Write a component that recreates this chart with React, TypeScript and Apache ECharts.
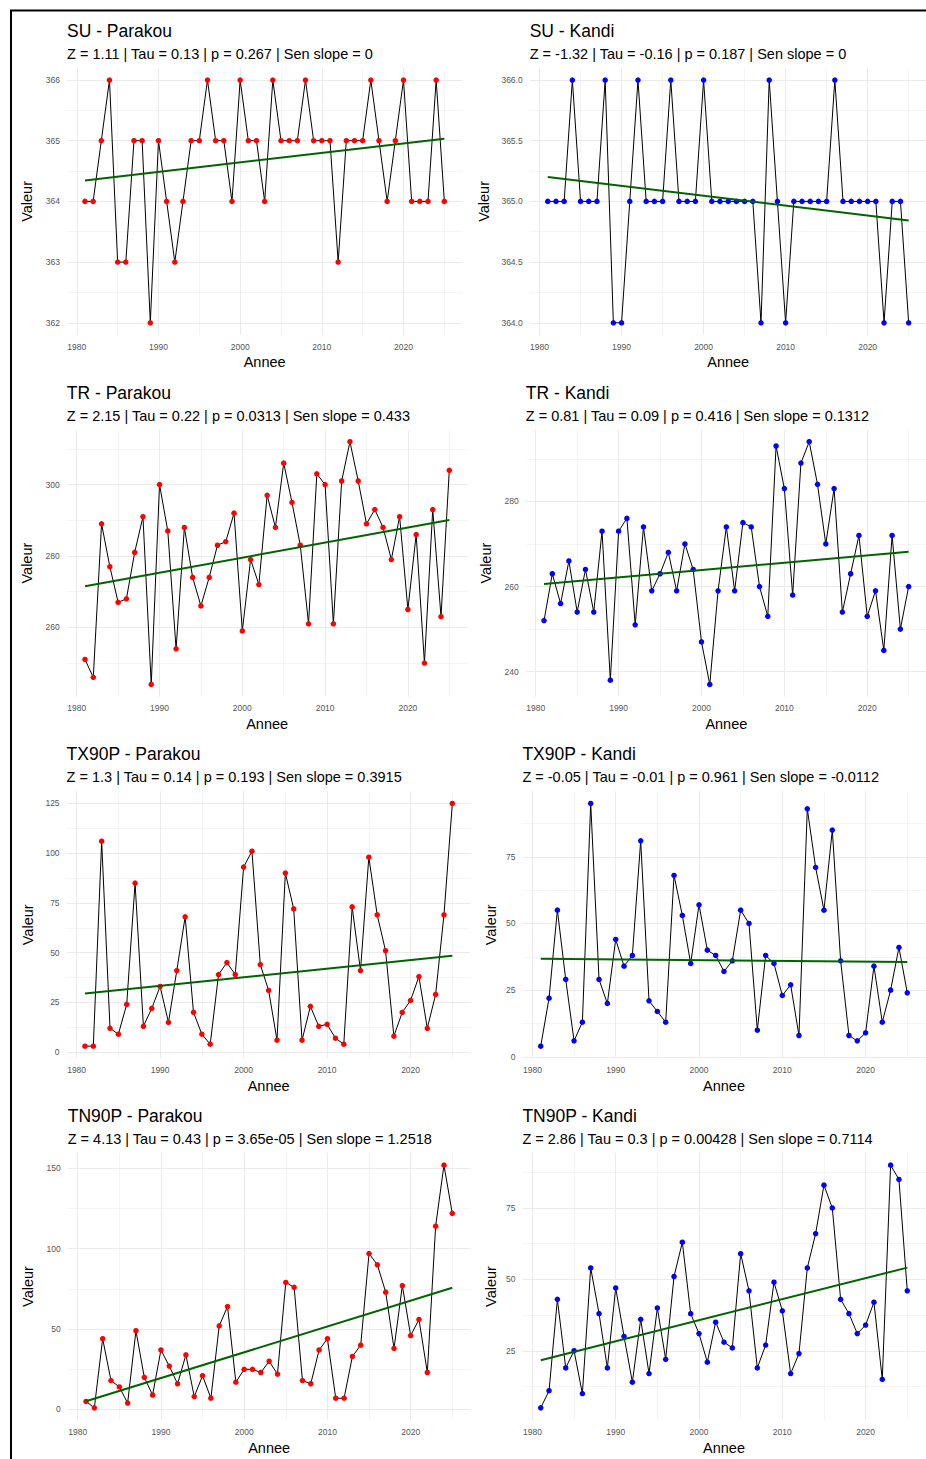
import React, { useEffect, useRef } from "react";
import * as echarts from "echarts";

// ---------------- DATA ----------------
const YEARS = [
  1981, 1982, 1983, 1984, 1985, 1986, 1987, 1988, 1989, 1990,
  1991, 1992, 1993, 1994, 1995, 1996, 1997, 1998, 1999, 2000,
  2001, 2002, 2003, 2004, 2005, 2006, 2007, 2008, 2009, 2010,
  2011, 2012, 2013, 2014, 2015, 2016, 2017, 2018, 2019, 2020,
  2021, 2022, 2023, 2024, 2025,
];
const X_TICKS = [1980, 1990, 2000, 2010, 2020];

const SU_PARAKOU = [
  364, 364, 365, 366, 363, 363, 365, 365, 362, 365,
  364, 363, 364, 365, 365, 366, 365, 365, 364, 366,
  365, 365, 364, 366, 365, 365, 365, 366, 365, 365,
  365, 363, 365, 365, 365, 366, 365, 364, 365, 366,
  364, 364, 364, 366, 364,
];
const SU_KANDI = [
  365, 365, 365, 366, 365, 365, 365, 366, 364, 364,
  365, 366, 365, 365, 365, 366, 365, 365, 365, 366,
  365, 365, 365, 365, 365, 365, 364, 366, 365, 364,
  365, 365, 365, 365, 365, 366, 365, 365, 365, 365,
  365, 364, 365, 365, 364,
];
const TR_PARAKOU = [
  251, 246, 289, 277, 267, 268, 281, 291, 244, 300,
  287, 254, 288, 274, 266, 274, 283, 284, 292, 259,
  279, 272, 297, 288, 306, 295, 283, 261, 303, 300,
  261, 301, 312, 301, 289, 293, 288, 279, 291, 265,
  286, 250, 293, 263, 304,
];
const TR_KANDI = [
  252, 263, 256, 266, 254, 264, 254, 273, 238, 273,
  276, 251, 274, 259, 263, 268, 259, 270, 264, 247,
  237, 259, 274, 259, 275, 274, 260, 253, 293, 283,
  258, 289, 294, 284, 270, 283, 254, 263, 272, 253,
  259, 245, 272, 250, 260,
];
const TX90P_PARAKOU = [
  3, 3, 106, 12, 9, 24, 85, 13, 22, 33,
  15, 41, 68, 20, 9, 4, 39, 45, 39, 93,
  101, 44, 31, 6, 90, 72, 6, 23, 13, 14,
  7, 4, 73, 41, 98, 69, 51, 8, 20, 26,
  38, 12, 29, 69, 125,
];
const TX90P_KANDI = [
  4, 22, 55, 29, 6, 13, 95, 29, 20, 44,
  34, 38, 81, 21, 17, 13, 68, 53, 35, 57,
  40, 38, 32, 36, 55, 50, 10, 38, 35, 23,
  27, 8, 93, 71, 55, 85, 36, 8, 6, 9,
  34, 13, 25, 41, 24,
];
const TN90P_PARAKOU = [
  5, 1, 44, 18, 14, 4, 49, 20, 9, 37,
  27, 16, 34, 8, 21, 7, 52, 64, 17, 25,
  25, 23, 30, 22, 79, 76, 18, 16, 37, 44,
  7, 7, 33, 40, 97, 90, 73, 38, 77, 46,
  56, 23, 114, 152, 122,
];
const TN90P_KANDI = [
  5, 11, 43, 19, 25, 10, 54, 38, 19, 47,
  30, 14, 36, 17, 40, 22, 51, 63, 38, 31,
  21, 35, 28, 26, 59, 46, 19, 27, 49, 39,
  17, 24, 54, 66, 83, 75, 43, 38, 31, 34,
  42, 15, 90, 85, 46,
];

const TITLES = [
  "SU - Parakou", "SU - Kandi",
  "TR - Parakou", "TR - Kandi",
  "TX90P - Parakou", "TX90P - Kandi",
  "TN90P - Parakou", "TN90P - Kandi",
];
const SUBTITLES = [
  "Z = 1.11 | Tau = 0.13 | p = 0.267 | Sen slope = 0",
  "Z = -1.32 | Tau = -0.16 | p = 0.187 | Sen slope = 0",
  "Z = 2.15 | Tau = 0.22 | p = 0.0313 | Sen slope = 0.433",
  "Z = 0.81 | Tau = 0.09 | p = 0.416 | Sen slope = 0.1312",
  "Z = 1.3 | Tau = 0.14 | p = 0.193 | Sen slope = 0.3915",
  "Z = -0.05 | Tau = -0.01 | p = 0.961 | Sen slope = -0.0112",
  "Z = 4.13 | Tau = 0.43 | p = 3.65e-05 | Sen slope = 1.2518",
  "Z = 2.86 | Tau = 0.3 | p = 0.00428 | Sen slope = 0.7114",
];
const SERIES_VALUES = [
  SU_PARAKOU, SU_KANDI, TR_PARAKOU, TR_KANDI,
  TX90P_PARAKOU, TX90P_KANDI, TN90P_PARAKOU, TN90P_KANDI,
];
const Y_STEPS = [1, 0.5, 20, 20, 25, 25, 50, 25];
const Y_DECIMALS = [0, 1, 0, 0, 0, 0, 0, 0];
const X_NAME = "Annee";
const Y_NAME = "Valeur";

// ---------------- STYLE / LAYOUT ----------------
const FONT = "'Liberation Sans', Arial, Helvetica, sans-serif";
const COLOR_PARAKOU = "#FF0000";
const COLOR_KANDI = "#0000FF";
const TREND_COLOR = "#006400";
const GRID_COLOR = "#EBEBEB";

const LAYOUT = [
  { left: 67.0, right: 462.3, top: 67.9, yNameGap: 40 },
  { left: 529.7, right: 926.7, top: 67.9, yNameGap: 45.5 },
  { left: 66.8, right: 467.5, top: 429.6, yNameGap: 40 },
  { left: 525.8, right: 926.9, top: 429.6, yNameGap: 40 },
  { left: 66.6, right: 470.7, top: 791.3, yNameGap: 39 },
  { left: 522.4, right: 925.6, top: 791.3, yNameGap: 31 },
  { left: 67.7, right: 470.6, top: 1153.0, yNameGap: 40 },
  { left: 522.4, right: 925.6, top: 1153.0, yNameGap: 31 },
];
const PLOT_H = 267;

function expandedRange(vals: number[]): [number, number] {
  const mn = Math.min(...vals);
  const mx = Math.max(...vals);
  const pad = (mx - mn) * 0.05;
  return [mn - pad, mx + pad];
}

function stepsWithin(lo: number, hi: number, step: number, offset: number): number[] {
  const out: number[] = [];
  let v = Math.ceil((lo - offset) / step - 1e-9) * step + offset;
  for (; v <= hi + 1e-9; v += step) out.push(Math.round(v * 1e6) / 1e6);
  return out;
}

function ols(xs: number[], ys: number[]): [number, number] {
  const n = xs.length;
  const mx = xs.reduce((a, b) => a + b, 0) / n;
  const my = ys.reduce((a, b) => a + b, 0) / n;
  let sxy = 0;
  let sxx = 0;
  for (let i = 0; i < n; i++) {
    sxy += (xs[i] - mx) * (ys[i] - my);
    sxx += (xs[i] - mx) * (xs[i] - mx);
  }
  const b = sxy / sxx;
  return [my - b * mx, b];
}

function buildOption() {
  const [xMin, xMax] = expandedRange(YEARS);
  const xMajors = stepsWithin(xMin, xMax, 10, 0);
  const xMinors = stepsWithin(xMin, xMax, 10, 5);

  const grids: any[] = [];
  const xAxes: any[] = [];
  const yAxes: any[] = [];
  const series: any[] = [];
  const graphics: any[] = [];

  SERIES_VALUES.forEach((vals, i) => {
    const lay = LAYOUT[i];
    const [yMin, yMax] = expandedRange(vals);
    const step = Y_STEPS[i];
    const yMajors = stepsWithin(yMin, yMax, step, 0);
    const yMinors = stepsWithin(yMin, yMax, step, step / 2);
    const dec = Y_DECIMALS[i];
    const pointColor = i % 2 === 0 ? COLOR_PARAKOU : COLOR_KANDI;

    grids.push({
      left: lay.left,
      top: lay.top,
      width: lay.right - lay.left,
      height: PLOT_H,
      containLabel: false,
      outerBoundsMode: "none",
      show: false,
    });

    xAxes.push({
      type: "value",
      gridIndex: i,
      min: xMin,
      max: xMax,
      axisLine: { show: false },
      axisTick: { show: false, customValues: X_TICKS },
      splitLine: { show: false },
      axisLabel: {
        customValues: X_TICKS,
        formatter: (v: number) => String(Math.round(v)),
        fontSize: 8.5,
        fontFamily: FONT,
        color: "#555555",
        margin: 11.8,
        verticalAlign: "middle",
        hideOverlap: false,
      },
      name: X_NAME,
      nameLocation: "middle",
      nameGap: 27.5,
      nameTextStyle: {
        fontSize: 14.5,
        fontFamily: FONT,
        color: "#000000",
        verticalAlign: "middle",
      },
    });

    yAxes.push({
      type: "value",
      gridIndex: i,
      min: yMin,
      max: yMax,
      axisLine: { show: false },
      axisTick: { show: false, customValues: yMajors },
      splitLine: { show: false },
      axisLabel: {
        customValues: yMajors,
        formatter: (v: number) => v.toFixed(dec),
        fontSize: 8.5,
        fontFamily: FONT,
        color: "#555555",
        margin: 7,
        hideOverlap: false,
      },
      name: Y_NAME,
      nameLocation: "middle",
      nameRotate: 90,
      nameGap: lay.yNameGap,
      nameTextStyle: {
        fontSize: 14.5,
        fontFamily: FONT,
        color: "#000000",
        verticalAlign: "middle",
      },
    });

    const [a, b] = ols(YEARS, vals);
    const x0 = YEARS[0];
    const x1 = YEARS[YEARS.length - 1];
    const trend = [
      [x0, a + b * x0],
      [x1, a + b * x1],
    ];

    // grid lines (major + minor), ggplot theme_minimal style
    const gridLines: any[] = [];
    xMinors.forEach((v) => gridLines.push({ xAxis: v, lineStyle: { width: 0.5 } }));
    yMinors.forEach((v) => gridLines.push({ yAxis: v, lineStyle: { width: 0.5 } }));
    xMajors.forEach((v) => gridLines.push({ xAxis: v, lineStyle: { width: 1 } }));
    yMajors.forEach((v) => gridLines.push({ yAxis: v, lineStyle: { width: 1 } }));

    series.push({
      type: "line",
      xAxisIndex: i,
      yAxisIndex: i,
      data: trend,
      showSymbol: false,
      symbol: "none",
      lineStyle: { opacity: 0, width: 0 },
      silent: true,
      z: 0,
      markLine: {
        silent: true,
        z: 0,
        zlevel: 0,
        symbol: ["none", "none"],
        label: { show: false },
        animation: false,
        lineStyle: { color: GRID_COLOR, type: "solid", width: 1 },
        emphasis: { disabled: true },
        data: gridLines,
      },
    });

    const pts = YEARS.map((y, k) => [y, vals[k]]);
    series.push({
      type: "line",
      xAxisIndex: i,
      yAxisIndex: i,
      data: pts,
      symbol: "none",
      showSymbol: false,
      lineStyle: { color: "#000000", width: 1 },
      silent: true,
      z: 2,
    });
    series.push({
      type: "scatter",
      xAxisIndex: i,
      yAxisIndex: i,
      data: pts,
      symbol: "circle",
      symbolSize: 5.5,
      itemStyle: { color: pointColor, opacity: 1 },
      silent: true,
      z: 3,
    });
    series.push({
      type: "line",
      xAxisIndex: i,
      yAxisIndex: i,
      data: trend,
      symbol: "none",
      showSymbol: false,
      lineStyle: { color: TREND_COLOR, width: 2 },
      silent: true,
      z: 4,
    });

    graphics.push({
      type: "text",
      x: lay.left,
      y: lay.top - 36.9,
      silent: true,
      style: {
        text: TITLES[i],
        fill: "#000000",
        fontSize: 17.5,
        fontFamily: FONT,
        align: "left",
        verticalAlign: "middle",
        textAlign: "left",
        textVerticalAlign: "middle",
      },
    });
    graphics.push({
      type: "text",
      x: lay.left,
      y: lay.top - 14.1,
      silent: true,
      style: {
        text: SUBTITLES[i],
        fill: "#000000",
        fontSize: 14.5,
        fontFamily: FONT,
        align: "left",
        verticalAlign: "middle",
        textAlign: "left",
        textVerticalAlign: "middle",
      },
    });
  });

  // outer frame (top and left edges)
  graphics.push({
    type: "line",
    silent: true,
    shape: { x1: 10, y1: 10.5, x2: 926, y2: 10.5 },
    style: { stroke: "#000000", lineWidth: 2 },
  });
  graphics.push({
    type: "line",
    silent: true,
    shape: { x1: 11, y1: 10, x2: 11, y2: 1459 },
    style: { stroke: "#000000", lineWidth: 2 },
  });

  return {
    animation: false,
    backgroundColor: "#FFFFFF",
    grid: grids,
    xAxis: xAxes,
    yAxis: yAxes,
    series,
    graphic: { elements: graphics },
  };
}

export default function App() {
  const ref = useRef<HTMLDivElement>(null);
  useEffect(() => {
    if (!ref.current) return;
    const chart = echarts.init(ref.current, null, { renderer: "svg" });
    chart.setOption(buildOption() as any);
    return () => {
      chart.dispose();
    };
  }, []);
  return (
    <div
      ref={ref}
      style={{ position: "absolute", left: 0, top: 0, width: 926, height: 1459, background: "#FFFFFF" }}
    />
  );
}
